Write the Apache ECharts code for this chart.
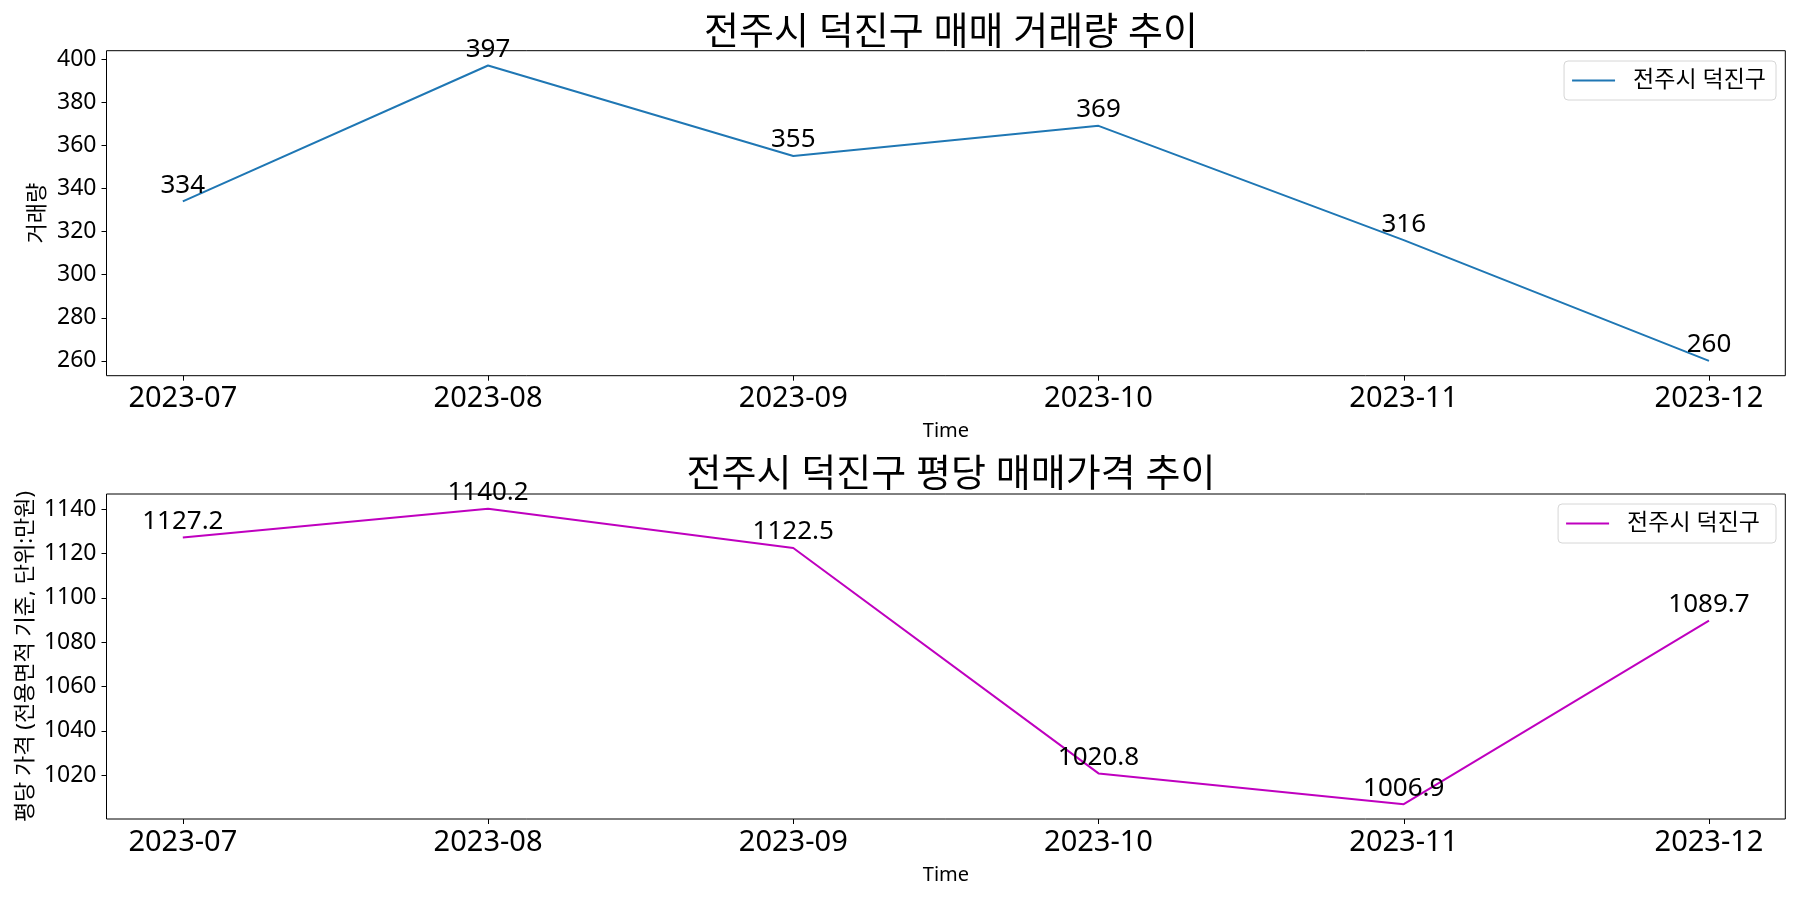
<!DOCTYPE html>
<html>
<head>
<meta charset="utf-8">
<script src="https://cdn.jsdelivr.net/npm/echarts@6/dist/echarts.min.js"></script>
<style>
html,body{margin:0;padding:0;background:#fff;}
#chart{width:1800px;height:900px;}
</style>
</head>
<body>
<div id="chart"></div>
<script>
// ---- data ----
const months = ['2023-07', '2023-08', '2023-09', '2023-10', '2023-11', '2023-12'];
const volume = [334, 397, 355, 369, 316, 260];
const pricePerPyeong = [1127.2, 1140.2, 1122.5, 1020.8, 1006.9, 1089.7];
const volumeTicks = [260, 280, 300, 320, 340, 360, 380, 400];
const priceTicks = [1020, 1040, 1060, 1080, 1100, 1120, 1140];
const seriesName = '전주시 덕진구';
const titleTop = '전주시 덕진구 매매 거래량 추이';
const titleBottom = '전주시 덕진구 평당 매매가격 추이';
const yNameTop = '거래량';
const yNameBottom = '평당 가격 (전용면적 기준, 단위:만원)';
const xName = 'Time';

const FONT = '"Noto Sans", "Noto Sans CJK KR", sans-serif';
const idx = months.map((m, i) => i);

function pad(arr) {
  const mn = Math.min(...arr), mx = Math.max(...arr), r = mx - mn;
  return [mn - 0.05 * r, mx + 0.05 * r];
}
const [vMin, vMax] = pad(volume);
const [pMin, pMax] = pad(pricePerPyeong);
const xPad = 0.05 * (months.length - 1);

const gridLeft = 106.5, gridW = 1678.8, gridH = 325;

function xAxis(gi) {
  return {
    type: 'value', gridIndex: gi, min: -xPad, max: months.length - 1 + xPad,
    name: xName, nameLocation: 'middle', nameGap: 46,
    nameTextStyle: { fontSize: 20, color: '#000', fontFamily: FONT },
    axisLine: { show: false, onZero: false },
    splitLine: { show: false },
    axisTick: { show: true, length: 5, customValues: idx, lineStyle: { color: '#000', width: 1 } },
    axisLabel: { customValues: idx, formatter: v => months[Math.round(v)] ?? '', fontSize: 29, color: '#000', margin: 9, fontFamily: FONT }
  };
}
function yAxis(gi, mn, mx, ticks, name, gap) {
  return {
    type: 'value', gridIndex: gi, min: mn, max: mx,
    name: name, nameLocation: 'middle', nameGap: gap, nameMoveOverlap: false,
    nameTextStyle: { fontSize: 22, color: '#000', fontFamily: FONT },
    axisLine: { show: false, onZero: false },
    splitLine: { show: false },
    axisTick: { show: true, length: 5, customValues: ticks, lineStyle: { color: '#000', width: 1 } },
    axisLabel: { customValues: ticks, formatter: v => String(v), fontSize: 23, color: '#000', margin: 10, fontFamily: FONT }
  };
}
function legend(top, name, color) {
  return {
    top: top, right: 1800 - 1776, orient: 'vertical',
    data: [{ name: name, icon: 'rect', itemStyle: { color: color } }],
    itemWidth: 43, itemHeight: 2,
    padding: [8, 10, 8, 8],
    borderColor: '#d6d6d6', borderWidth: 1, borderRadius: 4,
    backgroundColor: 'rgba(255,255,255,0.8)',
    textStyle: { fontSize: 23, color: '#000', fontFamily: FONT, padding: [0, 0, 0, 13] }
  };
}
function labelCfg(dist) {
  return { show: true, position: 'top', distance: dist, fontSize: 26, color: '#000', fontFamily: FONT };
}

const chart = echarts.init(document.getElementById('chart'), null, { renderer: 'canvas' });
chart.setOption({
  animation: false,
  backgroundColor: '#fff',
  title: [
    { text: titleTop, left: 946, top: 9, textAlign: 'center', textStyle: { fontSize: 38, fontWeight: 'normal', color: '#000', fontFamily: FONT } },
    { text: titleBottom, left: 946, top: 451, textAlign: 'center', textStyle: { fontSize: 38, fontWeight: 'normal', color: '#000', fontFamily: FONT } }
  ],
  grid: [
    { left: gridLeft, top: 50.7, width: gridW, height: gridH, show: true, borderColor: '#000', borderWidth: 1, backgroundColor: 'transparent' },
    { left: gridLeft, top: 494, width: gridW, height: gridH, show: true, borderColor: '#000', borderWidth: 1, backgroundColor: 'transparent' }
  ],
  xAxis: [xAxis(0), xAxis(1)],
  yAxis: [
    yAxis(0, vMin, vMax, volumeTicks, yNameTop, 58),
    yAxis(1, pMin, pMax, priceTicks, yNameBottom, 70)
  ],
  legend: [
    legend(61, seriesName, '#1f77b4'),
    legend(504, seriesName + ' ', '#bf00bf')
  ],
  series: [
    {
      name: seriesName, type: 'line', xAxisIndex: 0, yAxisIndex: 0,
      data: volume.map((v, i) => [i, v]),
      showSymbol: true, symbol: 'circle', symbolSize: 0.01,
      lineStyle: { color: '#1f77b4', width: 2 }, itemStyle: { color: '#1f77b4' },
      label: Object.assign(labelCfg(3), { formatter: p => String(p.value[1]) }),
      labelLayout: { hideOverlap: false }
    },
    {
      name: seriesName + ' ', type: 'line', xAxisIndex: 1, yAxisIndex: 1,
      data: pricePerPyeong.map((v, i) => [i, v]),
      showSymbol: true, symbol: 'circle', symbolSize: 0.01,
      lineStyle: { color: '#bf00bf', width: 2 }, itemStyle: { color: '#bf00bf' },
      label: Object.assign(labelCfg(3), { formatter: p => p.value[1].toFixed(1) }),
      labelLayout: { hideOverlap: false }
    }
  ]
});
</script>
</body>
</html>
